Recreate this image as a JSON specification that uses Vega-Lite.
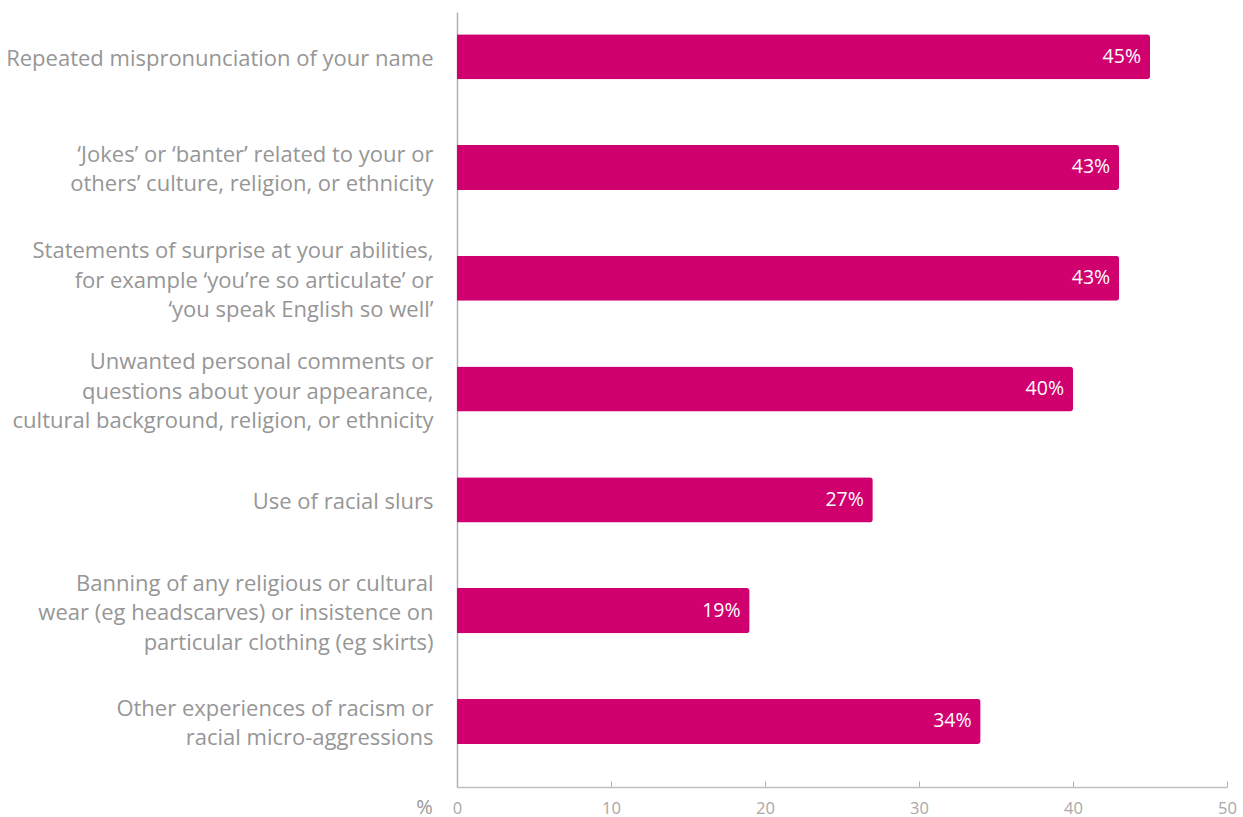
{
  "$schema": "https://vega.github.io/schema/vega-lite/v6.json",
  "autosize": {"type": "none"},
  "padding": {"left": 457, "top": 12, "right": 16, "bottom": 30},
  "width": 770,
  "height": 775,
  "background": "white",
  "data": {
    "values": [
      {"item": "Repeated mispronunciation of your name", "pct": 45},
      {"item": "‘Jokes’ or ‘banter’ related to your or|others’ culture, religion, or ethnicity", "pct": 43},
      {"item": "Statements of surprise at your abilities,|for example ‘you’re so articulate’ or|‘you speak English so well’", "pct": 43},
      {"item": "Unwanted personal comments or|questions about your appearance,|cultural background, religion, or ethnicity", "pct": 40},
      {"item": "Use of racial slurs", "pct": 27},
      {"item": "Banning of any religious or cultural|wear (eg headscarves) or insistence on|particular clothing (eg skirts)", "pct": 19},
      {"item": "Other experiences of racism or|racial micro-aggressions", "pct": 34}
    ]
  },
  "config": {"view": {"stroke": null}, "font": "Open Sans"},
  "transform": [{"calculate": "datum.pct + '%'", "as": "pctLabel"}],
  "encoding": {
    "y": {
      "field": "item", "type": "nominal", "sort": null,
      "scale": {"paddingInner": 0.593, "paddingOuter": 0.294, "align": 0.34},
      "axis": {
        "title": null, "ticks": false, "grid": false,
        "domainColor": "#b0b0b0", "domainWidth": 1.5,
        "labelExpr": "split(datum.label, '|')",
        "labelFont": "Open Sans", "labelFontSize": 22, "labelColor": "#969696",
        "labelLineHeight": 29.5, "labelPadding": 24, "labelLimit": 460,
        "labelAlign": "right", "labelBaseline": "middle",
        "labelOffset": {
          "condition": [
            {"test": "length(split(datum.value, '|')) == 3", "value": -27},
            {"test": "length(split(datum.value, '|')) == 2", "value": -12.5}
          ],
          "value": 2
        }
      }
    },
    "x": {
      "field": "pct", "type": "quantitative",
      "scale": {"domain": [0, 50], "nice": false},
      "axis": {
        "values": [0, 10, 20, 30, 40, 50], "grid": false, "labelFlush": false,
        "title": "%", "titleX": -33, "titleY": 20, "titleAlign": "center", "titleBaseline": "middle",
        "titleFont": "Open Sans", "titleFontSize": 20, "titleFontWeight": "normal", "titleColor": "#999999",
        "domainColor": "#c0c0c0", "domainWidth": 1.5,
        "tickColor": "#b0b0b0", "tickSize": -6, "tickWidth": 1,
        "labelFont": "Open Sans", "labelFontSize": 16.5, "labelColor": "#a8a8a8",
        "labelPadding": 19, "labelBaseline": "top"
      }
    }
  },
  "layer": [
    {"mark": {"type": "bar", "color": "#d0006f", "cornerRadiusEnd": 3}},
    {
      "mark": {"type": "text", "align": "right", "baseline": "middle", "dx": -9, "color": "white", "fontSize": 19.5, "font": "Open Sans"},
      "encoding": {"text": {"field": "pctLabel", "type": "nominal"}}
    }
  ]
}
